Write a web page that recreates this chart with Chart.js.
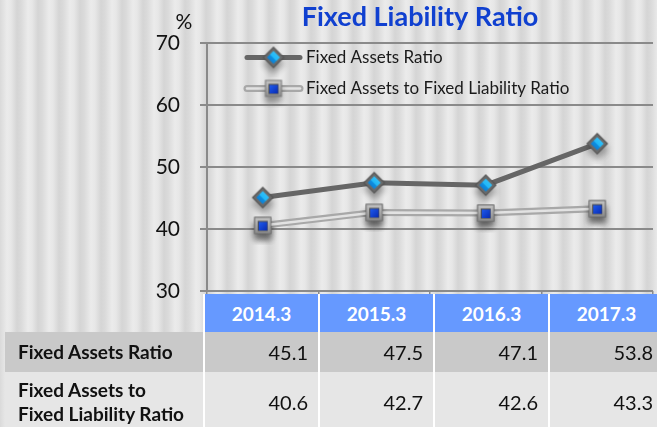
<!DOCTYPE html>
<html><head><meta charset="utf-8">
<script src="https://cdn.jsdelivr.net/npm/chart.js@4.4.0/dist/chart.umd.min.js"></script>
<style>
html,body{margin:0;padding:0;width:657px;height:427px;overflow:hidden;}
body{position:relative;font-family:Lato,"DejaVu Sans",sans-serif;
background:repeating-linear-gradient(90deg,#dadada 0px,#ebebeb 7px,#e7e7e7 11px,#d5d5d5 17px,#dadada 21px);}
#c{position:absolute;left:0;top:0;}
#tbl{position:absolute;left:5px;top:294px;border-collapse:separate;border-spacing:0;table-layout:fixed;width:658px;}
#tbl td{padding:0;font-size:20px;color:#111;white-space:nowrap;overflow:hidden;}
#tbl td.lab{width:198px;padding-left:13px;font-size:19px;font-weight:bold;text-align:left;line-height:24px;box-sizing:border-box;}
#tbl td.val{width:115px;border-left:2px solid #fff;text-align:right;padding-right:10px;box-sizing:border-box;}
#tbl tr.hdr td{height:38px;}
#tbl tr.hdr td.val{background:#6699ff;color:#fff;font-size:19px;font-weight:bold;text-align:center;padding-right:0;}
#tbl tr.r1 td{height:40px;background:#c9c9c9;}
#tbl tr.r2 td{height:60px;background:#e6e6e6;}
</style></head>
<body>
<canvas id="c" width="657" height="427"></canvas>
<table id="tbl"></table>
<script>
const categories = ['2014.3','2015.3','2016.3','2017.3'];
const fixedAssetsRatio = [45.1, 47.5, 47.1, 53.8];
const fixedAssetsToFixedLiabilityRatio = [40.6, 42.7, 42.6, 43.3];
const seriesNames = ['Fixed Assets Ratio', 'Fixed Assets to Fixed Liability Ratio'];
const tableRowLabels = [['Fixed Assets Ratio'], ['Fixed Assets to', 'Fixed Liability Ratio']];
const yTickValues = [30, 40, 50, 60, 70];
const chartTitle = 'Fixed Liability Ratio';
const unitLabel = '%';

// ---- table ----
(function(){
  const t = document.getElementById('tbl');
  let h = '<tr class="hdr"><td class="lab" style="background:transparent"></td>';
  categories.forEach(c => h += '<td class="val">' + c + '</td>');
  h += '</tr>';
  const rows = [fixedAssetsRatio, fixedAssetsToFixedLiabilityRatio];
  rows.forEach((r, i) => {
    h += '<tr class="r' + (i+1) + '"><td class="lab">' + tableRowLabels[i].join('<br>') + '</td>';
    r.forEach(v => h += '<td class="val">' + v.toFixed(1) + '</td>');
    h += '</tr>';
  });
  t.innerHTML = h;
})();

// ---- marker images ----
function makeDiamond(){
  const c = document.createElement('canvas'); c.width = 40; c.height = 40;
  const g = c.getContext('2d'); const x = 20, y = 20;
  function dia(r){ g.beginPath(); g.moveTo(x, y-r); g.lineTo(x+r, y); g.lineTo(x, y+r); g.lineTo(x-r, y); g.closePath(); }
  g.save(); g.shadowColor = 'rgba(0,0,0,0.35)'; g.shadowBlur = 6; g.shadowOffsetY = 6;
  dia(11); g.fillStyle = '#555555'; g.fill(); g.restore();
  dia(9.5); g.fillStyle = '#6a6a6a'; g.fill();
  dia(6.5);
  const gr = g.createLinearGradient(x-6, y+6, x+6, y-6);
  gr.addColorStop(0, '#0b70c8'); gr.addColorStop(0.45, '#0f8fe0'); gr.addColorStop(0.5, '#22b8f6'); gr.addColorStop(1, '#3cc8ff');
  g.fillStyle = gr; g.fill();
  return c;
}
function makeSquare(){
  const c = document.createElement('canvas'); c.width = 40; c.height = 40;
  const g = c.getContext('2d'); const x = 20, y = 20;
  g.save(); g.shadowColor = 'rgba(0,0,0,0.35)'; g.shadowBlur = 6; g.shadowOffsetY = 6;
  g.fillStyle = '#7a7a7a'; g.fillRect(x-8.5, y-8.5, 17, 17); g.restore();
  const gr0 = g.createLinearGradient(x, y-8, x, y+8);
  gr0.addColorStop(0, '#c4c4c4'); gr0.addColorStop(1, '#8a8a8a');
  g.fillStyle = gr0; g.fillRect(x-7.5, y-7.5, 15, 15);
  g.fillStyle = '#4a4a4a'; g.fillRect(x-5, y-4.5, 10, 10);
  const gr = g.createLinearGradient(x-4, y-4, x+4, y+4);
  gr.addColorStop(0, '#1f5cf0'); gr.addColorStop(1, '#0a2fb8');
  g.fillStyle = gr; g.fillRect(x-4, y-3.5, 8.5, 8.5);
  return c;
}
const diamondImg = makeDiamond();
const squareImg = makeSquare();

// ---- plugins ----
const doubleLinePlugin = {
  id: 'doubleLine',
  afterLayout(chart){
    const t = chart.titleBlock;
    if (t) { t.left -= 10; t.right -= 10; }
  },
  afterDatasetDraw(chart, args){
    if (args.index !== 1) return;
    const ctx = chart.ctx, pts = args.meta.data;
    ctx.save();
    ctx.beginPath();
    pts.forEach((p, i) => i ? ctx.lineTo(p.x, p.y) : ctx.moveTo(p.x, p.y));
    ctx.strokeStyle = '#e2e2e2'; ctx.lineWidth = 2.5; ctx.stroke();
    ctx.restore();
    pts.forEach(p => p.draw(ctx, chart.chartArea));
  }
};
const legendPlugin = {
  id: 'customLegend',
  afterDatasetsDraw(chart){
    const ctx = chart.ctx, ca = chart.chartArea;
    const x0 = ca.left + 40, x1 = ca.left + 93, xm = (x0 + x1) / 2;
    const ys = [ca.top + 14, ca.top + 45];
    ctx.save();
    ctx.lineCap = 'round';
    ctx.beginPath(); ctx.moveTo(x0, ys[0]); ctx.lineTo(x1, ys[0]);
    ctx.strokeStyle = '#666666'; ctx.lineWidth = 5; ctx.stroke();
    ctx.drawImage(diamondImg, xm - 20, ys[0] - 20);
    ctx.beginPath(); ctx.moveTo(x0, ys[1]); ctx.lineTo(x1, ys[1]);
    ctx.strokeStyle = '#a8a8a8'; ctx.lineWidth = 7; ctx.stroke();
    ctx.strokeStyle = '#e2e2e2'; ctx.lineWidth = 2.5; ctx.stroke();
    ctx.drawImage(squareImg, xm - 20, ys[1] - 20);
    ctx.fillStyle = '#1a1a1a'; ctx.font = '17px Lato'; ctx.textBaseline = 'middle'; ctx.textAlign = 'left';
    ctx.fillText(seriesNames[0], x1 + 6, ys[0]);
    ctx.fillText(seriesNames[1], x1 + 6, ys[1]);
    ctx.restore();
  },
  afterDraw(chart){
    const ctx = chart.ctx;
    ctx.save();
    ctx.fillStyle = '#111'; ctx.font = '21px Lato'; ctx.textAlign = 'center'; ctx.textBaseline = 'middle';
    ctx.fillText(unitLabel, 184, 22);
    ctx.restore();
  }
};

new Chart(document.getElementById('c'), {
  type: 'line',
  data: {
    labels: categories,
    datasets: [
      { label: seriesNames[0], data: fixedAssetsRatio, borderColor: '#666666', borderWidth: 5,
        pointStyle: diamondImg, pointRadius: 10, pointHoverRadius: 10, tension: 0 },
      { label: seriesNames[1], data: fixedAssetsToFixedLiabilityRatio, borderColor: '#a8a8a8', borderWidth: 7,
        pointStyle: squareImg, pointRadius: 10, pointHoverRadius: 10, tension: 0 }
    ]
  },
  options: {
    responsive: false, animation: false,
    layout: { autoPadding: false, padding: { left: 0, right: 4, top: 0, bottom: 0 } },
    plugins: {
      legend: { display: false },
      tooltip: { enabled: false },
      title: { display: true, text: chartTitle, fullSize: false, color: '#1040d0',
               font: { family: 'Lato', size: 27, weight: 'bold' }, padding: { top: 1, bottom: 10 } }
    },
    scales: {
      x: {
        offset: true,
        grid: { offset: true, drawOnChartArea: false, drawTicks: true, tickLength: 4, color: '#8a8a8a', lineWidth: 1.5 },
        border: { display: false },
        ticks: { display: false },
        afterFit(s){ s.height = 136; }
      },
      y: {
        min: 30, max: 70,
        afterBuildTicks(s){ s.ticks = yTickValues.map(v => ({ value: v })); },
        grid: { color: '#8a8a8a', lineWidth: 2, tickLength: 7 },
        border: { display: true, color: '#8a8a8a', width: 2 },
        ticks: { color: '#111', font: { family: 'Lato', size: 21 }, padding: 20 },
        afterFit(s){ s.width = 207; }
      }
    }
  },
  plugins: [doubleLinePlugin, legendPlugin]
});
</script>
</body></html>
